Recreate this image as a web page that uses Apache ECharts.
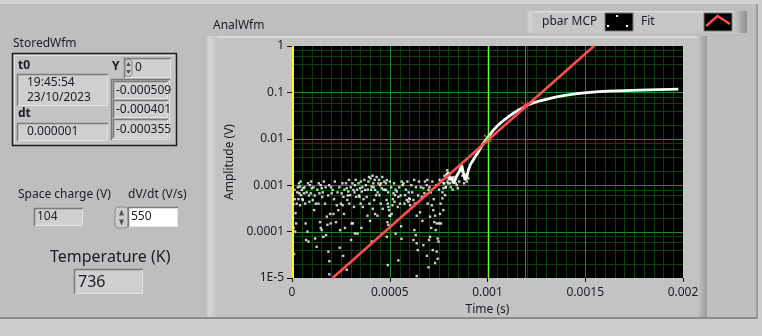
<!DOCTYPE html>
<html><head><meta charset="utf-8">
<script src="https://cdn.jsdelivr.net/npm/echarts@6/dist/echarts.min.js"></script>
<style>html,body{margin:0;padding:0;background:#bebebe;overflow:hidden}#c{width:762px;height:336px}</style>
</head><body><div id="c"></div>
<script>
// ---- data (sample index * dt = time in s) ----
const dt = 0.000001;
const noiseIdx = [7,21,16,10,24,41,50,58,38,46,62,55,67,41,70,79,72,84,92,101,96,106,89,113,118,126,147,152,140,155,135,143,147,152,160,169,178,181,174,186,203,208,195,212,198,191,191,229,237,225,246,254,263,259,266,271,280,288,297,283,293,305,302,280,314,322,328,317,311,322,340,348,357,345,351,362,374,382,391,396,386,399,408,408,416,425,430,420,413,425,442,450,459,447,454,464,437,476,484,493,498,488,
485,481,490,496,502,493,485,490,519,527,536,544,524,514,541,553,510,536,561,566,558,544,578,587,595,575,599,604,621,629,638,626,633,638,643,621,638,655,664,672,677,667,672,689,698,694,706,715,706,701,698,723,732,728,740,735,745,749,740,745,732,766,774,779,783,769,774,762,757,
800,791,808,817,826,834,843,848,868,885,902,894,770,776,787,795,812,822,838,855,872,880];
const noiseV = [0.00039,0.00015,0.0001,0.000033,0.0004,0.00093,0.00079,0.00086,0.00067,0.00061,0.00067,0.00048,0.0004,0.00037,0.00015,0.0001,0.000066,0.000061,0.001,0.00086,0.00067,0.00048,0.00044,0.00029,0.000071,0.000047,0.001,0.00086,0.00067,0.00056,0.0004,0.00016,0.00012,0.000108,0.000077,0.0004,0.00021,0.00014,0.000084,0.000037,0.00067,0.00079,0.00024,0.00024,0.00015,0.000023,0.000012,0.00037,0.00029,0.00016,0.000108,0.00067,0.00056,0.00037,0.00024,0.00012,0.00086,0.00073,0.00061,0.00048,0.0004,0.00015,0.000066,0.000015,0.00079,0.001,0.00056,0.00034,0.00015,0.000091,0.0011,0.00086,0.00073,0.00056,0.0004,0.00034,0.00079,0.00056,0.0012,0.0004,0.00022,0.00017,0.000061,0.00093,0.0011,0.00079,0.00061,0.00048,0.00031,0.00024,0.0011,0.001,0.00086,0.00061,0.0004,0.00031,0.00022,0.00079,0.00048,0.00034,0.00022,0.00016,
0.00129,0.00079,0.0004,0.00029,0.00022,0.00014,0.000077,0.000019,0.00067,0.00061,0.00073,0.00056,0.00044,0.00037,0.00034,0.0004,0.00024,0.00017,0.0012,0.001,0.00013,0.000024,0.00061,0.00048,0.00044,0.0004,0.00052,0.00037,0.00048,0.0004,0.00022,0.000108,0.000084,0.000056,0.00004,0.000066,0.000011,0.00026,0.00056,0.00086,0.00067,0.00017,0.000051,0.001,0.00079,0.0004,0.00021,0.00037,0.000077,0.000066,0.000017,0.00029,0.00022,0.00016,0.00015,0.000108,0.000071,0.000061,0.000037,0.000026,0.000021,0.0012,0.00086,0.0011,0.00061,0.00052,0.00029,0.00015,0.00024,
0.0014,0.0017,0.0011,0.0013,0.0015,0.0013,0.001,0.00086,0.002,0.0017,0.0014,0.0012,0.0007,0.0011,0.0009,0.0012,0.0009,0.0008,0.0011,0.0012,0.0016,0.0011];
const bandIdx = [3,5,8,12,14,18,27,30,33,36,44,53,64,75,82,87,98,110,116,122,130,137,158,163,172,185,190,200,215,219,233,242,250,258,268,244,262,276,285,291,300,309,320,326,333,343,352,360,366,370,378,388,394,335,355,402,405,412,418,423,433,438,445,456,462,468,472,480,492,500,507,516,522,530,548,556,570,583,590,597,603,530,560,610,615,625,634,645,650,660,680,685,692,703,710,718,725,738,752,755,760,752,712,690,720,772,780,786,794,798];
const bandV = [0.0006,0.0002,0.00012,0.0008,0.0005,0.00025,0.0007,0.0009,0.0005,0.0011,0.0012,0.0005,0.0009,0.0007,0.0011,0.0006,0.0012,0.0009,0.0006,0.0004,0.0008,0.0011,0.0007,0.0012,0.0009,0.0006,0.001,0.0009,0.0005,0.0012,0.0007,0.0009,0.0004,0.0011,0.0008,0.000045,0.00003,0.0011,0.0006,0.0013,0.0009,0.0011,0.0007,0.0013,0.0008,0.0006,0.0012,0.0009,0.0005,0.0013,0.001,0.0008,0.0015,0.00009,0.00012,0.0014,0.0008,0.0016,0.0009,0.0013,0.0015,0.0007,0.0013,0.0011,0.0015,0.0008,0.0012,0.0011,0.0007,0.0012,0.0009,0.0005,0.0011,0.0008,0.0009,0.0006,0.0011,0.0008,0.0012,0.0007,0.0005,0.00009,0.00007,0.001,0.0007,0.0013,0.0009,0.0006,0.0012,0.0009,0.0012,0.0006,0.0013,0.0009,0.0007,0.0012,0.0005,0.001,0.0008,0.0013,0.0004,0.00015,0.00012,0.00003,0.00004,0.0013,0.0016,0.0009,0.0021,0.0011];
const curveIdx = [791,800,808,817,825,834,843,851,859,868,876,885,894,902,911,919,927,940,953,966,979,992,1004,1025,1047,1068,1090,1111,1132,1153,1175,1196,1217,1243,1269,1295,1320,1354,1396,1439,1481,1524,1571,1618,1700,1780,1880,1976];
const curveV = [0.0016,0.0019,0.0013,0.0015,0.0011,0.0013,0.0016,0.0015,0.0021,0.0027,0.0019,0.0013,0.0015,0.0021,0.0027,0.0031,0.0035,0.0043,0.0052,0.0065,0.008,0.0095,0.011,0.0145,0.0183,0.0222,0.0263,0.0308,0.0355,0.0405,0.0454,0.0507,0.056,0.0612,0.066,0.0702,0.074,0.08,0.086,0.092,0.0965,0.1,0.104,0.107,0.1095,0.112,0.115,0.118];
const fitT = [0.000208, 0.001545];
const fitV = [0.00001, 1];
const cursorT = [0, 0.001, 0.00119];
const cursorMarkV = [0.0103, 0.0537];
const cursorColors = ['#ffff00', '#66ff33', '#ff2a2a'];
const xTicks = [0, 0.0005, 0.001, 0.0015, 0.002];
const xTickLabels = ['0', '0.0005', '0.001', '0.0015', '0.002'];
const yTicks = [0.00001, 0.0001, 0.001, 0.01, 0.1, 1];
const yTickLabels = ['1E-5', '0.0001', '0.001', '0.01', '0.1', '1'];
const yMinorMult = [2, 4, 6, 8];
const xMinorSplit = 10;

// ---- build ----
const noiseData = noiseIdx.map((i, k) => [i * dt, noiseV[k]]).concat(bandIdx.map((i, k) => [i * dt, bandV[k]]));
const curveData = curveIdx.map((i, k) => [i * dt, curveV[k]]);
const fitData = fitT.map((t, k) => [t, fitV[k]]);
const gridRec = [];
yTicks.slice(0, -1).forEach(d => yMinorMult.forEach(m => gridRec.push([0, d * m, 0])));
for (let k = 0; k < xTicks.length - 1; k++) {
  const step = (xTicks[k + 1] - xTicks[k]) / xMinorSplit;
  for (let j = 1; j < xMinorSplit; j++) gridRec.push([xTicks[k] + step * j, 1, 2]);
}
yTicks.slice(1, -1).forEach(v => gridRec.push([0, v, 1]));
xTicks.slice(1, -1).forEach(v => gridRec.push([v, 1, 3]));
cursorT.forEach((t, k) => gridRec.push([t, 1, 4 + k]));
const gridColors = ['#0c400c', '#1f8c1f', '#0c400c', '#1f8c1f'].concat(cursorColors);
const gridWidths = [1, 1, 1, 1, 2, 1.5, 1];

const F = '"Noto Sans", "Open Sans", sans-serif';
const TXT = '#1c1a26';
function txt(x, y, s, size, opts) {
  opts = opts || {};
  return {type: 'text', z: 10, silent: true, style: {x, y, text: s, font: (opts.bold ? 'bold ' : '') + size + 'px ' + F, fill: opts.fill || TXT, align: opts.align || 'left', verticalAlign: 'middle'}};
}
function recess(x, y, w, h, fill) {
  return [
    {type: 'rect', z: 5, silent: true, shape: {x, y, width: w, height: h}, style: {fill: fill || '#cfcfcf'}},
    {type: 'polyline', z: 6, silent: true, shape: {points: [[x + 0.5, y + h], [x + 0.5, y + 0.5], [x + w, y + 0.5]]}, style: {stroke: '#7a7a7a', lineWidth: 1.5, fill: null}},
    {type: 'polyline', z: 6, silent: true, shape: {points: [[x + 1, y + h - 0.5], [x + w - 0.5, y + h - 0.5], [x + w - 0.5, y + 1]]}, style: {stroke: '#e4e4e4', lineWidth: 1, fill: null}}
  ];
}
function spinner(x, y, w, h) {
  const cx = x + w / 2;
  return [
    {type: 'rect', z: 6, silent: true, shape: {x, y, width: w, height: h, r: 3}, style: {fill: '#cdcdcd', stroke: '#8a8a8a', lineWidth: 1}},
    {type: 'polygon', z: 7, silent: true, shape: {points: [[cx - 2.5, y + h / 2 - 2], [cx + 2.5, y + h / 2 - 2], [cx, y + 2.5]]}, style: {fill: '#555'}},
    {type: 'polygon', z: 7, silent: true, shape: {points: [[cx - 2.5, y + h / 2 + 2], [cx + 2.5, y + h / 2 + 2], [cx, y + h - 2.5]]}, style: {fill: '#555'}}
  ];
}

const graphics = [
  {type: 'rect', z: -2, silent: true, shape: {x: 0, y: 0, width: 762, height: 4}, style: {fill: '#d2d2d2'}},
  {type: 'rect', z: -2, silent: true, shape: {x: 0, y: 318, width: 762, height: 18}, style: {fill: '#cdcdcd'}},
  {type: 'rect', z: -2, silent: true, shape: {x: 0, y: 317, width: 758, height: 2}, style: {fill: '#8c8c8c'}},
  {type: 'rect', z: -2, silent: true, shape: {x: 758, y: 0, width: 4, height: 336}, style: {fill: '#cdcdcd'}},
  {type: 'rect', z: -2, silent: true, shape: {x: 756, y: 4, width: 2, height: 315}, style: {fill: '#9a9a9a'}},
  {type: 'rect', z: -1, silent: true, shape: {x: 205, y: 36, width: 495, height: 281}, style: {fill: '#c3c3c3'}},
  {type: 'rect', z: -1, silent: true, shape: {x: 205, y: 36, width: 495, height: 2}, style: {fill: '#dadada'}},
  {type: 'rect', z: -1, silent: true, shape: {x: 205, y: 36, width: 12, height: 281}, style: {fill: new echarts.graphic.LinearGradient(0, 0, 1, 0, [{offset: 0, color: '#b8b8b8'}, {offset: 0.35, color: '#d6d6d6'}, {offset: 1, color: '#c3c3c3'}])}},
  {type: 'rect', z: -1, silent: true, shape: {x: 697, y: 36, width: 10, height: 281}, style: {fill: new echarts.graphic.LinearGradient(0, 0, 1, 0, [{offset: 0, color: '#c6c6c6'}, {offset: 1, color: '#9c9c9c'}])}},
  txt(213, 26, 'AnalWfm', 12),
  {type: 'rect', z: 5, silent: true, shape: {x: 526, y: 11, width: 221, height: 22}, style: {fill: '#c6c6c6'}},
  {type: 'rect', z: 5, silent: true, shape: {x: 526, y: 11, width: 221, height: 1.5}, style: {fill: '#dedede'}},
  {type: 'rect', z: 5, silent: true, shape: {x: 526, y: 11, width: 8, height: 22}, style: {fill: new echarts.graphic.LinearGradient(0, 0, 1, 0, [{offset: 0, color: '#bcbcbc'}, {offset: 0.5, color: '#d4d4d4'}, {offset: 1, color: '#c6c6c6'}])}},
  {type: 'rect', z: 5, silent: true, shape: {x: 734, y: 11, width: 13, height: 22}, style: {fill: new echarts.graphic.LinearGradient(0, 0, 1, 0, [{offset: 0, color: '#c6c6c6'}, {offset: 1, color: '#8e8e8e'}])}},
  txt(542, 22, 'pbar MCP', 12),
  {type: 'rect', z: 6, silent: true, shape: {x: 605, y: 13, width: 28, height: 18}, style: {fill: '#000', stroke: '#7a7a7a', lineWidth: 1}},
  {type: 'rect', z: 7, silent: true, shape: {x: 616, y: 15, width: 2, height: 2}, style: {fill: '#fff'}},
  {type: 'rect', z: 7, silent: true, shape: {x: 607, y: 25, width: 2, height: 2}, style: {fill: '#fff'}},
  {type: 'rect', z: 7, silent: true, shape: {x: 626, y: 25, width: 2, height: 2}, style: {fill: '#fff'}},
  txt(641, 22, 'Fit', 12),
  {type: 'rect', z: 6, silent: true, shape: {x: 704, y: 13, width: 28, height: 18}, style: {fill: '#000', stroke: '#7a7a7a', lineWidth: 1}},
  {type: 'polyline', z: 7, silent: true, shape: {points: [[706, 26], [717.5, 16], [730, 24]]}, style: {stroke: '#ff4d4d', lineWidth: 2.5, fill: null}},
  txt(13, 44, 'StoredWfm', 12),
  {type: 'rect', z: 4, silent: true, shape: {x: 12.5, y: 53.5, width: 164, height: 92}, style: {fill: '#c4c4c4', stroke: '#1e1e1e', lineWidth: 1.5}},
  {type: 'polyline', z: 4, silent: true, shape: {points: [[14.5, 143], [14.5, 55.5], [174.5, 55.5]]}, style: {stroke: '#e2e2e2', lineWidth: 1, fill: null}},
  txt(18, 66, 't0', 12, {bold: true}),
  ...recess(17, 74, 91, 32),
  txt(27, 83, '19:45:54', 12),
  txt(27, 98, '23/10/2023', 12),
  txt(18, 114, 'dt', 12, {bold: true}),
  ...recess(17, 123, 91, 18),
  txt(27, 132, '0.000001', 12),
  txt(112, 67, 'Y', 12, {bold: true}),
  ...recess(124, 58, 47, 20),
  ...spinner(125, 59.5, 7, 17),
  txt(135, 68, '0', 12),
  ...recess(111, 79, 59, 61, '#bdbdbd'),
  ...recess(113, 81, 55, 18),
  ...recess(113, 100, 55, 18),
  ...recess(113, 119, 55, 19),
  txt(116, 90.5, '-0.000509', 12),
  txt(116, 110, '-0.000401', 12),
  txt(116, 129.5, '-0.000355', 12),
  txt(18, 195, 'Space charge (V)', 12),
  ...recess(34, 208, 49, 18),
  txt(37, 217, '104', 12),
  txt(128, 195, 'dV/dt (V/s)', 12),
  ...spinner(115, 207, 13, 21),
  ...recess(128, 207, 50, 20, '#ffffff'),
  txt(131, 217, '550', 12),
  txt(50, 257, 'Temperature (K)', 16),
  ...recess(74, 269, 69, 25),
  txt(78, 282, '736', 16)
];

const chart = echarts.init(document.getElementById('c'), null, {renderer: 'canvas', width: 762, height: 336});
chart.setOption({
  animation: false,
  backgroundColor: '#bebebe',
  textStyle: {fontFamily: F},
  grid: {left: 292, right: 79, top: 46, bottom: 58, show: true, backgroundColor: '#000', borderWidth: 0, z: 0},
  xAxis: {
    type: 'value', min: 0, max: 0.002, interval: 0.0005,
    name: 'Time (s)', nameLocation: 'middle', nameGap: 26, nameTextStyle: {color: TXT, fontSize: 12, fontFamily: F},
    axisLine: {show: false}, splitLine: {show: false},
    axisTick: {show: true, length: 4, lineStyle: {color: '#111', width: 1}},
    axisLabel: {color: TXT, fontSize: 12, fontFamily: F, margin: 9, formatter: v => xTickLabels[Math.round(v / 0.0005)]}
  },
  yAxis: {
    type: 'log', logBase: 10, min: 0.00001, max: 1,
    name: 'Amplitude (V)', nameLocation: 'middle', nameGap: 44, nameRotate: 90, nameTextStyle: {color: TXT, fontSize: 12, fontFamily: F},
    axisLine: {show: false}, splitLine: {show: false},
    axisTick: {show: true, length: 5, lineStyle: {color: '#111', width: 1}},
    axisLabel: {color: TXT, fontSize: 12, fontFamily: F, margin: 8, formatter: v => yTickLabels[Math.round(Math.log10(v)) + 5]}
  },
  series: [
    {name: 'grid', type: 'custom', z: 1, silent: true, clip: false, data: gridRec,
      renderItem: function (params, api) {
        const cs = params.coordSys;
        const kind = api.value(2);
        const col = gridColors[kind], w = gridWidths[kind];
        if (kind === 0 || kind === 1) {
          const y = Math.round(api.coord([0, api.value(1)])[1]) + 0.5;
          return {type: 'line', shape: {x1: cs.x, y1: y, x2: cs.x + cs.width, y2: y}, style: {stroke: col, lineWidth: w}};
        }
        let x = Math.round(api.coord([api.value(0), 1])[0]);
        x = kind === 4 ? x + 1 : x + 0.5;
        return {type: 'line', shape: {x1: x, y1: cs.y, x2: x, y2: cs.y + cs.height}, style: {stroke: col, lineWidth: w}};
      }},
    {name: 'pbar MCP', type: 'scatter', data: noiseData, symbol: 'rect', symbolSize: 2.4, itemStyle: {color: '#fff'}, z: 4, silent: true},
    {name: 'pbar MCP ', type: 'line', data: curveData, showSymbol: false, symbol: 'none', lineStyle: {color: '#fff', width: 2.8}, z: 4, silent: true},
    {name: 'Fit', type: 'line', data: fitData, showSymbol: false, symbol: 'none', lineStyle: {color: '#ff4d4d', width: 2.6}, z: 5, silent: true},
    {name: 'cursorMarks', type: 'scatter', z: 6, silent: true, symbol: 'path://M0,1L1,0L10,9L9,10Z M9,0L10,1L1,10L0,9Z', symbolSize: 8,
      data: cursorMarkV.map((v, k) => ({value: [cursorT[k + 1], v], itemStyle: {color: cursorColors[k + 1]}}))}
  ],
  graphic: graphics
});
</script></body></html>
